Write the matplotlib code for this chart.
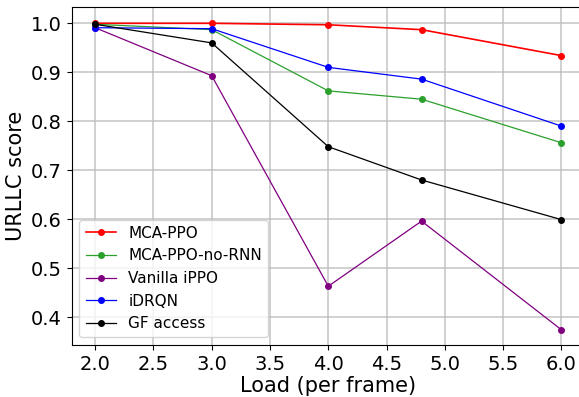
import matplotlib.pyplot as plt

# Data
load = [2.0, 3.0, 4.0, 4.8, 6.0]
mca_ppo = [1.000, 1.000, 0.997, 0.987, 0.934]
mca_ppo_no_rnn = [0.998, 0.987, 0.862, 0.845, 0.756]
vanilla_ippo = [0.991, 0.893, 0.463, 0.596, 0.374]
idrqn = [0.991, 0.989, 0.910, 0.886, 0.790]
gf_access = [0.998, 0.960, 0.748, 0.680, 0.599]

fig = plt.figure(figsize=(5.79, 3.97), dpi=100)
ax = fig.add_axes([0.124, 0.131, 0.886, 0.851])

ax.plot(load, mca_ppo, '-o', color='red', lw=1.2, ms=4, label='MCA-PPO')
ax.plot(load, mca_ppo_no_rnn, '-o', color='tab:green', lw=0.9, ms=4, label='MCA-PPO-no-RNN')
ax.plot(load, vanilla_ippo, '-o', color='purple', lw=0.9, ms=4, label='Vanilla iPPO')
ax.plot(load, idrqn, '-o', color='blue', lw=0.9, ms=4, label='iDRQN')
ax.plot(load, gf_access, '-o', color='black', lw=0.9, ms=4, label='GF access')

ax.set_xlim(1.8, 6.2)
ax.set_ylim(0.343, 1.033)
ax.set_xticks([2.0, 2.5, 3.0, 3.5, 4.0, 4.5, 5.0, 5.5, 6.0])
ax.set_yticks([0.4, 0.5, 0.6, 0.7, 0.8, 0.9, 1.0])
ax.grid(True, color='#bbbbbb', lw=1.2, alpha=0.8)
ax.tick_params(labelsize=14)
ax.set_xlabel('Load (per frame)', fontsize=15, labelpad=2)
ax.set_ylabel('URLLC score', fontsize=15)
ax.legend(loc='lower left', fontsize=11, bbox_to_anchor=(0.0, 0.0))

fig.savefig('out.png', dpi=100)
